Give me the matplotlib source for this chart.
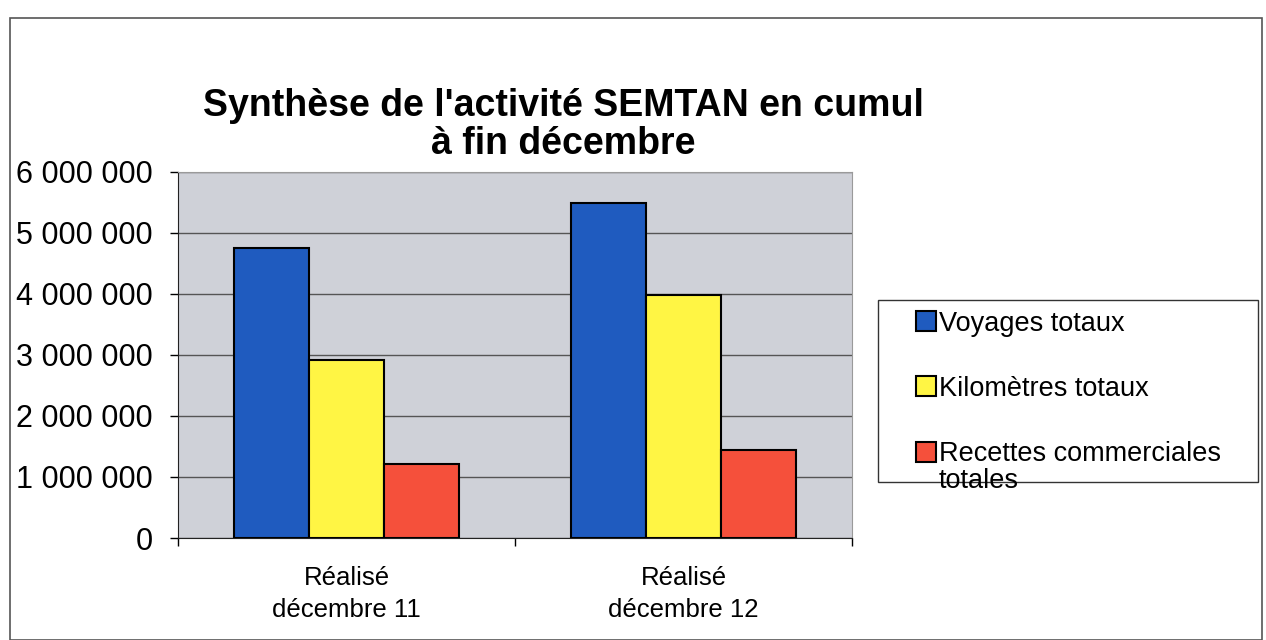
import numpy as np
import matplotlib.pyplot as plt
from matplotlib.patches import Rectangle

categories = ["Réalisé\ndécembre 11", "Réalisé\ndécembre 12"]
series = ["Voyages totaux", "Kilomètres totaux", "Recettes commerciales\ntotales"]
voyages = [4750000, 5490000]
kilometres = [2920000, 3980000]
recettes = [1220000, 1450000]
yticks = [0, 1000000, 2000000, 3000000, 4000000, 5000000, 6000000]

colors = ["#1f5bbf", "#fff544", "#f5503b"]

plt.rcParams['font.family'] = ['Liberation Sans', 'DejaVu Sans']

W, H = 1266, 640
fig = plt.figure(figsize=(W / 100, H / 100), dpi=100)
ax = fig.add_axes([178 / W, 1 - 538 / H, (852 - 178) / W, (538 - 172) / H])

x = np.arange(len(categories))
w = 1 / 4.5
values = [voyages, kilometres, recettes]
for i, (vals, lab, c) in enumerate(zip(values, series, colors)):
    # only first line goes in the legend, the rest is written below it
    ax.bar(x + (i - 1) * w, vals, width=w, color=c, edgecolor="black",
           linewidth=1.5, label=lab.split("\n")[0], zorder=3)

ax.set_xlim(-0.5, 1.5)
ax.set_ylim(0, 6000000)
ax.set_facecolor("#cfd1d8")
ax.set_yticks(yticks)
ax.set_yticklabels(["{:,}".format(v).replace(",", " ") for v in yticks], fontsize=22)
ax.yaxis.grid(True, color="#555555", linewidth=1, zorder=0)
ax.set_xticks(x)
ax.set_xticklabels(categories, fontsize=18.5, linespacing=1.45)
ax.tick_params(axis="x", length=0, pad=20)
ax.tick_params(axis="y", length=6, width=1, pad=12, direction="out")
ax.set_xticks([-0.5, 0.5, 1.5], minor=True)
ax.tick_params(axis="x", which="minor", length=6, width=1, direction="out")
for s in ["top", "right"]:
    ax.spines[s].set_color("#9a9a9a")
for s in ["left", "bottom"]:
    ax.spines[s].set_color("#222222")

fig.text(563 / W, 1 - 125 / H, "Synthèse de l'activité SEMTAN en cumul\nà fin décembre",
         ha="center", va="center", fontsize=27, fontweight="bold", linespacing=1.1)

# legend without frame, frame drawn by hand
leg = fig.legend(loc="upper left", bbox_to_anchor=(902 / W, 1 - 297 / H),
                 fontsize=19.5, frameon=False,
                 handlelength=0.75, handleheight=0.75, handletextpad=0.1,
                 labelspacing=1.45, borderpad=0)
for hnd in leg.legend_handles:
    hnd.set_linewidth(1.5)

# continuation lines of wrapped legend labels
fig.canvas.draw()
inv = fig.transFigure.inverted()
for t, lab in zip(leg.get_texts(), series):
    rest = lab.split("\n")[1:]
    if rest:
        bb = t.get_window_extent()
        x0, y0 = inv.transform((bb.x0, bb.y0))
        fig.text(x0, y0 - 1 / H, "\n".join(rest), fontsize=19.5, ha="left", va="top")

fig.patches.append(Rectangle((878 / W, 1 - 482 / H), 380 / W, 182 / H,
                             transform=fig.transFigure, fill=False,
                             edgecolor="#333333", linewidth=1))

# outer chart frame
fig.patches.append(Rectangle((10 / W, 0.0), 1252 / W, 1 - 18 / H,
                             transform=fig.transFigure, fill=False,
                             edgecolor="#555555", linewidth=1.2))

fig.savefig("out.png", dpi=100)
